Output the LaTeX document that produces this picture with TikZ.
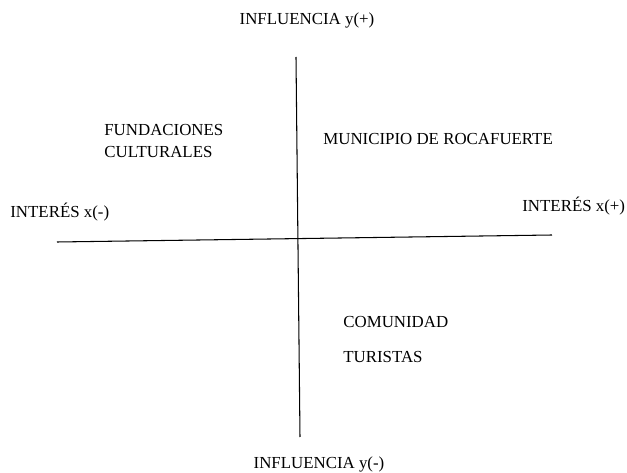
\documentclass[tikz,border=0pt]{standalone}
\usepackage{fontspec}
\setmainfont{Liberation Serif}
\usepackage{tikz}

\tikzset{lbl/.style={inner sep=0pt, font=\fontsize{9.6}{11}\selectfont}}

\begin{document}
\begin{tikzpicture}[x=0.02cm, y=-0.02cm]
\useasboundingbox (0,0) rectangle (627,473);

% axes
\coordinate (top) at (296,57);
\coordinate (bot) at (300,437);
\coordinate (left) at (57,242);
\coordinate (right) at (552,235);
\draw[line width=0.6pt] (top) -- (bot);
\draw[line width=0.6pt] (left) -- (right);

% axis labels
\node[lbl] (ymas) at (307,20) {INFLUENCIA y(+)};
\node[lbl] (ymenos) at (319,464) {INFLUENCIA y(-)};
\node[lbl, anchor=west] (xmenos) at (10,212) {INTERÉS x(-)};
\node[lbl, anchor=west] (xmas) at (522,206) {INTERÉS x(+)};

% quadrants
\node[lbl, anchor=west] (fund) at (104,130) {FUNDACIONES};
\node[lbl, anchor=west] (cult) at (104,152) {CULTURALES};
\node[lbl, anchor=west] (muni) at (323,139) {MUNICIPIO DE ROCAFUERTE};
\node[lbl, anchor=west] (comu) at (343,322) {COMUNIDAD};
\node[lbl, anchor=west] (turi) at (343,357) {TURISTAS};
\end{tikzpicture}
\end{document}
